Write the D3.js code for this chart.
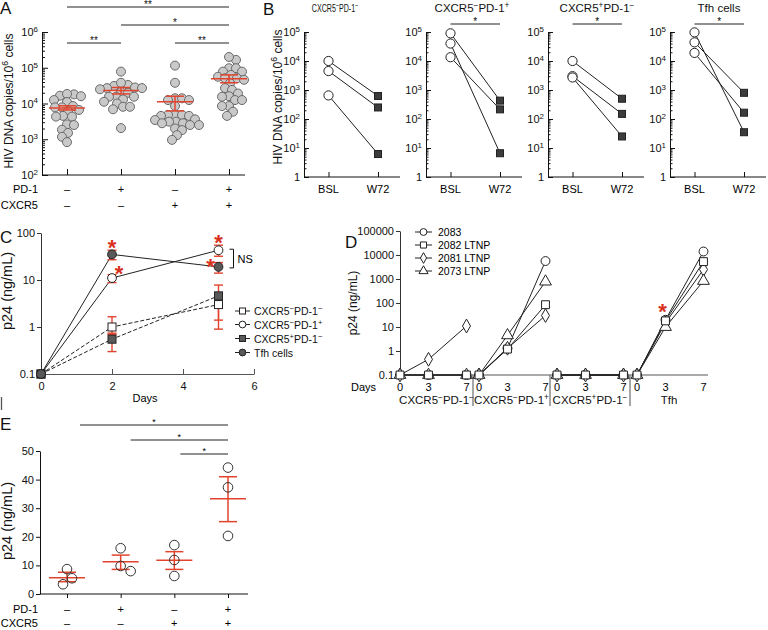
<!DOCTYPE html>
<html><head><meta charset="utf-8">
<script src="https://cdn.jsdelivr.net/npm/d3@7"></script>
<style>
body{margin:0;background:#fff}
svg{font-family:"Liberation Sans",Arial,Helvetica,sans-serif;display:block}
</style></head>
<body><svg width="768" height="630"></svg>
<script>
// ---------------- DATA ----------------
// Panel A
const aPD1 = ["–","+","–","+"];
const aCXCR5 = ["–","–","+","+"];
const aValues = [
  [18000,16000,16500,18500,11000,12500,7800,7800,8500,6200,6600,4500,4300,4300,2600,2500,1850,1500,1170,830],
  [78000,33000,31000,38000,28000,27000,25000,27000,21000,20000,15500,15500,15500,13000,11200,10000,8100,8100,6900,2050],
  [115000,38000,14000,14000,12500,12500,8500,4800,4800,4800,4500,4500,3100,3450,3600,3100,2800,2500,2500,2800,2000,1800,1300,960],
  [166000,200000,97000,97000,78000,78000,63000,56000,51000,51000,46000,37000,27000,24000,16000,19000,15500,12500,8500,8500,12500,5900,4500]
];
const aMean = [7500,23000,11200,49000];
const aLow  = [6600,18500,6200,38000];
const aHigh = [8600,28000,16000,63000];
const aSig = [[0,3,"**"],[1,3,"*"],[0,1,"**"],[2,3,"**"]];

// Panel B
const bTitles = ["CXCR5^−PD-1^−","CXCR5^−PD-1^+","CXCR5^+PD-1^−","Tfh cells"];
const bTimes = ["BSL","W72"];
const bBSL = [[10000,4500,650],[90000,40000,13500],[10000,3000,2700],[97000,44000,19000]];
const bW72 = [[620,250,6.2],[430,6.6,215],[500,150,25],[35,800,165]];
const bSig = [false,true,true,true];

// Panel C
const cSeries = ["CXCR5^−PD-1^−","CXCR5^−PD-1^+","CXCR5^+PD-1^−","Tfh cells"];
const cDays = [0,2,5];
const cMean = [[0.1,1.0,3.0],[0.1,11,43],[0.1,0.55,4.6],[0.1,35,19]];
const cLow  = [[null,0.7,0.9],[null,8.8,32],[null,0.3,1.4],[null,27,14]];
const cHigh = [[null,1.65,5.0],[null,13,55],[null,0.74,7.8],[null,43,23.5]];

// Panel D
const dDonors = ["2083","2082 LTNP","2081 LTNP","2073 LTNP"];
const dSections = ["CXCR5^−PD-1^−","CXCR5^−PD-1^+","CXCR5^+PD-1^−","Tfh"];
const dDays = [0,3,7];
const dValues = [ // [section][donor][day]
  [[0.1,0.1,0.1],[0.1,0.1,0.1],[0.1,0.45,11],[0.1,0.1,0.1]],
  [[0.1,1.3,5600],[0.1,1.2,85],[0.1,1.3,30],[0.1,4.5,780]],
  [[0.1,0.1,0.1],[0.1,0.1,0.1],[0.1,0.1,0.1],[0.1,0.1,0.1]],
  [[0.1,20,14000],[0.1,18,5300],[0.1,15,2500],[0.1,10,830]]
];
const dTicks = ["0.1","1","10","100","1000","10000","100000"];

// Panel E
const ePD1 = ["–","+","–","+"];
const eCXCR5 = ["–","–","+","+"];
const eValues = [[8.7,5.5,3.4],[16,9.8,8.0],[17.1,11.9,6.3],[44.2,37.3,20.3]];
const eMean = [5.7,11.3,11.8,33.3];
const eLow  = [4.3,8.6,8.6,25.3];
const eHigh = [7.6,13.6,14.8,41.0];
const eSig = [[0,3,"*"],[1,3,"*"],[2,3,"*"]];

// ---------------- HELPERS ----------------
const svg = d3.select("svg");
const RED = "#e2432c";
const STAR = "#d8301c";
svg.append("rect").attr("width",768).attr("height",630).attr("fill","#fff");

function rich(g, x, y, str, size, anchor){
  const t = g.append("text").attr("x",x).attr("y",y).attr("font-size",size)
    .attr("text-anchor",anchor||"start").attr("fill","#111");
  let buf = "", down = false;
  const flush = () => {
    if(buf){ const ts = t.append("tspan").text(buf); if(down){ ts.attr("dy", size*0.38); down=false; } buf=""; }
  };
  for(let k=0;k<str.length;k++){
    const c = str[k];
    if(c==="^"){
      flush();
      t.append("tspan").attr("dy", -size*0.38).attr("font-size", size*0.72).text(str[k+1]);
      k++; down = true;
    } else buf += c;
  }
  flush();
  return t;
}
function swarm(ys, r){
  const placed=[], off=new Array(ys.length);
  d3.range(ys.length).sort((a,b)=>ys[a]-ys[b]).forEach(i=>{
    const y=ys[i];
    for(let s=0;s<400;s++){
      const dx = s===0?0:(s%2?Math.ceil(s/2):-s/2);
      if(placed.every(p=>(p.x-dx)**2+(p.y-y)**2 >= (2*r)**2)){ off[i]=dx; placed.push({x:dx,y}); break; }
    }
  });
  return off;
}
function decadeMinors(lo, hi){
  const out=[];
  for(let e=lo;e<hi;e++) for(let m=2;m<=9;m++) out.push(m*Math.pow(10,e));
  return out;
}
function letter(x,y,t){ svg.append("text").attr("x",x).attr("y",y).attr("font-size",17).attr("fill","#111").text(t); }
function vlabel(x,y,str,size){
  const g = svg.append("g").attr("transform",`translate(${x},${y}) rotate(-90)`);
  rich(g,0,0,str,size,"middle");
}
function errBar(g, x, lo, hi, cap, sc, color, w){
  g.append("line").attr("x1",x).attr("x2",x).attr("y1",sc(lo)).attr("y2",sc(hi)).attr("stroke",color).attr("stroke-width",w);
  [lo,hi].forEach(v=>g.append("line").attr("x1",x-cap).attr("x2",x+cap).attr("y1",sc(v)).attr("y2",sc(v)).attr("stroke",color).attr("stroke-width",w));
}

// ---------------- PANEL A ----------------
{
  const g = svg.append("g");
  const y = d3.scaleLog().domain([1e2,1e6]).range([175,32]);
  const x = d3.scalePoint().domain(d3.range(4)).range([67,229]);
  const majors=[1e2,1e3,1e4,1e5,1e6];
  g.append("g").attr("transform","translate(42,0)").attr("color","#111")
    .call(d3.axisLeft(y).tickValues(majors).tickSize(-6).tickSizeOuter(0).tickFormat(""));
  g.append("g").attr("transform","translate(42,0)").attr("color","#111")
    .call(d3.axisLeft(y).tickValues(decadeMinors(2,6)).tickSize(-3).tickFormat(""))
    .select(".domain").remove();
  majors.forEach(v=>rich(g,38,y(v)+4,"10^"+Math.round(Math.log10(v)),11,"end"));
  const xa = g.append("g").attr("transform","translate(0,175)").attr("color","#111")
    .call(d3.axisBottom(x).tickSize(-6).tickSizeOuter(0).tickFormat(""));
  xa.select(".domain").remove();
  g.append("line").attr("x1",42).attr("x2",245).attr("y1",175).attr("y2",175).attr("stroke","#111");
  // points
  aValues.forEach((vals,i)=>{
    const ys = vals.map(v=>y(v));
    const off = swarm(ys,3.4);
    g.selectAll(null).data(vals).join("circle")
      .attr("cx",(d,k)=>x(i)+off[k]).attr("cy",d=>y(d)).attr("r",4.5)
      .attr("fill","#c9c9c9").attr("stroke","#6a6a6a").attr("stroke-width",1);
    g.append("line").attr("x1",x(i)-18).attr("x2",x(i)+18).attr("y1",y(aMean[i])).attr("y2",y(aMean[i]))
      .attr("stroke",RED).attr("stroke-width",1.5);
    errBar(g,x(i),aLow[i],aHigh[i],9,y,RED,1.5);
  });
  const levels=[7,25,43,43];
  aSig.forEach((s,k)=>{
    g.append("line").attr("x1",x(s[0])).attr("x2",x(s[1])).attr("y1",levels[k]).attr("y2",levels[k]).attr("stroke","#222");
    g.append("text").attr("x",(x(s[0])+x(s[1]))/2).attr("y",levels[k]+0.5).attr("text-anchor","middle")
      .attr("font-size",10).attr("fill","#111").text(s[2]);
  });
  g.append("text").attr("x",38).attr("y",193).attr("text-anchor","end").attr("font-size",11).text("PD-1");
  g.append("text").attr("x",38).attr("y",209).attr("text-anchor","end").attr("font-size",11).text("CXCR5");
  aPD1.forEach((s,i)=>g.append("text").attr("x",x(i)).attr("y",193).attr("text-anchor","middle").attr("font-size",11).text(s));
  aCXCR5.forEach((s,i)=>g.append("text").attr("x",x(i)).attr("y",209).attr("text-anchor","middle").attr("font-size",11).text(s));
  vlabel(13,101,"HIV DNA copies/10^6 cells",12);
  letter(0,14,"A");
}

// ---------------- PANEL B ----------------
{
  const x0s=[304,426,548,670];
  const titleX=[335,472,597,719];
  const y = d3.scaleLog().domain([1,1e5]).range([177,32]);
  const majors=[1,10,100,1e3,1e4,1e5];
  x0s.forEach((x0,i)=>{
    const g = svg.append("g").attr("transform",`translate(${x0},0)`);
    const x = d3.scalePoint().domain(bTimes).range([24.5,74]);
    g.append("g").attr("color","#111").call(d3.axisLeft(y).tickValues(majors).tickSize(-5).tickSizeOuter(0).tickFormat(""));
    g.append("g").attr("color","#111").call(d3.axisLeft(y).tickValues(decadeMinors(0,5)).tickSize(-2.5).tickFormat(""))
      .select(".domain").remove();
    majors.forEach(v=>{
      const e=Math.round(Math.log10(v));
      rich(g,-4,y(v)+4,e===0?"1":"10^"+e,11,"end");
    });
    const xa=g.append("g").attr("transform","translate(0,177)").attr("color","#111")
      .call(d3.axisBottom(x).tickSize(-5).tickSizeOuter(0).tickFormat(""));
    xa.select(".domain").remove();
    g.append("line").attr("x1",0).attr("x2",96).attr("y1",177).attr("y2",177).attr("stroke","#111");
    bTimes.forEach(t=>g.append("text").attr("x",x(t)).attr("y",193).attr("text-anchor","middle").attr("font-size",11).text(t));
    bBSL[i].forEach((v,k)=>{
      g.append("line").attr("x1",x("BSL")).attr("x2",x("W72")).attr("y1",y(v)).attr("y2",y(bW72[i][k])).attr("stroke","#222");
    });
    g.selectAll(null).data(bW72[i]).join("rect")
      .attr("x",x("W72")-3.5).attr("y",d=>y(d)-3.5).attr("width",7).attr("height",7)
      .attr("fill","#3c3c3c").attr("stroke","#222");
    g.selectAll(null).data(bBSL[i]).join("circle")
      .attr("cx",x("BSL")).attr("cy",d=>y(d)).attr("r",4.6)
      .attr("fill","#fff").attr("stroke","#222");
    if(bSig[i]){
      g.append("line").attr("x1",x("BSL")).attr("x2",x("W72")).attr("y1",24).attr("y2",24).attr("stroke","#222");
      g.append("text").attr("x",(x("BSL")+x("W72"))/2).attr("y",24.5).attr("text-anchor","middle").attr("font-size",10).text("*");
    }
    // title
    const tg = svg.append("g").attr("transform",`translate(${titleX[i]},12)` + (i===0?" scale(0.62,1)":""));
    rich(tg,0,0,bTitles[i],11.5,"middle");
  });
  vlabel(282,97,"HIV DNA copies/10^6 cells",12);
  letter(263,15,"B");
}

// ---------------- PANEL C ----------------
{
  const g = svg.append("g");
  const x = d3.scaleLinear().domain([0,6]).range([41,254]);
  const y = d3.scaleLog().domain([0.1,100]).range([374,233]);
  const ya = g.append("g").attr("transform","translate(41,0)").attr("color","#333")
    .call(d3.axisLeft(y).tickValues([0.1,1,10,100]).tickSize(4).tickSizeOuter(0).tickPadding(2)
      .tickFormat(d=>d<1?"0.1":String(d)));
  ya.selectAll("text").attr("font-size",11).attr("font-family",null).attr("fill","#111");
  const xa = g.append("g").attr("transform","translate(0,374)").attr("color","#555")
    .call(d3.axisBottom(x).tickValues([0,2,4,6]).tickSize(-5).tickSizeOuter(0).tickPadding(8).tickFormat(d3.format("d")));
  xa.selectAll("text").attr("font-size",11).attr("font-family",null).attr("fill","#111");
  g.append("text").attr("x",145).attr("y",402).attr("text-anchor","middle").attr("font-size",11).text("Days");
  const style=[{sh:"sq",fill:"#fff",dash:"4,2"},{sh:"ci",fill:"#fff",dash:null},{sh:"sq",fill:"#595959",dash:"4,2"},{sh:"ci",fill:"#595959",dash:null}];
  const line = d3.line().x(d=>x(d[0])).y(d=>y(d[1]));
  cMean.forEach((m,i)=>{
    g.append("path").attr("d",line(cDays.map((d,k)=>[d,m[k]]))).attr("fill","none")
      .attr("stroke","#222").attr("stroke-width",1).attr("stroke-dasharray",style[i].dash);
  });
  cMean.forEach((m,i)=>{
    cDays.forEach((d,k)=>{ if(cLow[i][k]!=null) errBar(g,x(d),cLow[i][k],cHigh[i][k],4.5,y,RED,1.4); });
  });
  function marker(gg,cx,cy,st,s){
    if(st.sh==="sq") gg.append("rect").attr("x",cx-s).attr("y",cy-s).attr("width",2*s).attr("height",2*s)
      .attr("fill",st.fill).attr("stroke","#222");
    else gg.append("circle").attr("cx",cx).attr("cy",cy).attr("r",s+0.4).attr("fill",st.fill).attr("stroke","#222");
  }
  cMean.forEach((m,i)=>cDays.forEach((d,k)=>marker(g,x(d),y(m[k]),style[i],4)));
  // stars
  const stars=[[2,35,0,-11],[2,11,7,-9],[5,43,0,-12],[5,19,-8,-5]];
  stars.forEach(s=>g.append("text").attr("x",x(s[0])+s[2]).attr("y",y(s[1])+s[3]+12).attr("text-anchor","middle")
    .attr("font-size",22).attr("font-weight","bold").attr("fill",STAR).text("*"));
  // NS bracket
  g.append("path").attr("d",`M${x(5)+11},${y(43)-1}H${x(5)+15}V${y(19)+1}H${x(5)+11}`).attr("fill","none").attr("stroke","#111");
  g.append("text").attr("x",x(5)+19).attr("y",(y(43)+y(19))/2+4).attr("font-size",11).text("NS");
  // legend
  const ly=[311,324.5,338.5,352.5];
  cSeries.forEach((s,i)=>{
    g.append("line").attr("x1",235).attr("x2",250).attr("y1",ly[i]).attr("y2",ly[i]).attr("stroke","#222");
    marker(g,242.5,ly[i],style[i],3);
    rich(g,254,ly[i]+4,s,10.5,"start");
  });
  vlabel(12,291,"p24 (ng/mL)",14.5);
  letter(0,243,"C");
}

// ---------------- PANEL D ----------------
{
  const g = svg.append("g");
  const y = d3.scaleLog().domain([0.1,100000]).range([375,231]);
  const starts=[400,479,557,637];
  const bounds=[400,473,550,630,708];
  const x = d3.scaleLinear().domain([0,7]).range([0,66.5]);
  const ya=g.append("g").attr("transform","translate(400,0)").attr("color","#333")
    .call(d3.axisLeft(y).tickValues(dTicks.map(Number)).tickSize(4).tickSizeOuter(0).tickPadding(2)
      .tickFormat((d,i)=>dTicks[i]));
  ya.selectAll("text").attr("font-size",11).attr("font-family",null).attr("fill","#111");
  g.append("line").attr("x1",400).attr("x2",708).attr("y1",375).attr("y2",375).attr("stroke","#555");
  [1,2,3].forEach(k=>g.append("line").attr("x1",bounds[k]).attr("x2",bounds[k]).attr("y1",375).attr("y2",406)
    .attr("stroke","#777").attr("stroke-width",1.3));
  g.append("text").attr("x",376).attr("y",391).attr("text-anchor","end").attr("font-size",11).text("Days");
  const symbols=[d3.symbolCircle,d3.symbolSquare,d3.symbolDiamond,d3.symbolTriangle];
  const sizes=[62,62,55,60];
  const order=[0,2,3,1];
  dSections.forEach((sec,s)=>{
    const gs=g.append("g").attr("transform",`translate(${starts[s]},0)`);
    dDays.forEach(d=>gs.append("text").attr("x",x(d)).attr("y",391).attr("text-anchor","middle").attr("font-size",11).text(d));
    rich(g,(bounds[s]+bounds[s+1])/2,404,sec,11.5,"middle");
    const line=d3.line().x(d=>x(d[0])).y(d=>y(d[1]));
    dValues[s].forEach(vals=>gs.append("path").attr("d",line(dDays.map((d,k)=>[d,vals[k]])))
      .attr("fill","none").attr("stroke","#222").attr("stroke-width",1));
    order.forEach(di=>{
      dValues[s][di].forEach((v,k)=>{
        gs.append("path").attr("d",d3.symbol(symbols[di],sizes[di])())
          .attr("transform",`translate(${x(dDays[k])},${y(v)})`).attr("fill","#fff").attr("stroke","#222");
      });
    });
  });
  g.append("text").attr("x",starts[3]+x(3)-3).attr("y",y(dValues[3][1][1])-14+12).attr("text-anchor","middle")
    .attr("font-size",22).attr("font-weight","bold").attr("fill",STAR).text("*");
  // legend
  const ly=[232,245,258,271];
  dDonors.forEach((t,i)=>{
    g.append("line").attr("x1",415).attr("x2",432).attr("y1",ly[i]).attr("y2",ly[i]).attr("stroke","#222");
    g.append("path").attr("d",d3.symbol(symbols[i],sizes[i]*0.6)()).attr("transform",`translate(423.5,${ly[i]})`)
      .attr("fill","#fff").attr("stroke","#222");
    g.append("text").attr("x",438).attr("y",ly[i]+4).attr("font-size",10.5).text(t);
  });
  vlabel(357,303,"p24 (ng/mL)",12);
  letter(345,248,"D");
}

// ---------------- PANEL E ----------------
{
  const g = svg.append("g");
  const y = d3.scaleLinear().domain([0,50]).range([594,451]);
  const x = d3.scalePoint().domain(d3.range(4)).range([67,228]);
  const ya=g.append("g").attr("transform","translate(40,0)").attr("color","#111")
    .call(d3.axisLeft(y).tickValues([0,10,20,30,40,50]).tickSize(4).tickSizeOuter(0).tickPadding(2));
  ya.selectAll("text").attr("font-size",11).attr("font-family",null).attr("fill","#111");
  const xa=g.append("g").attr("transform","translate(0,594)").attr("color","#111")
    .call(d3.axisBottom(x).tickSize(4).tickSizeOuter(0).tickFormat(""));
  xa.select(".domain").remove();
  g.append("line").attr("x1",40).attr("x2",248).attr("y1",594).attr("y2",594).attr("stroke","#111");
  eValues.forEach((vals,i)=>{
    const off=swarm(vals.map(v=>y(v)),5.2);
    g.append("line").attr("x1",x(i)-18).attr("x2",x(i)+18).attr("y1",y(eMean[i])).attr("y2",y(eMean[i]))
      .attr("stroke",RED).attr("stroke-width",1.5);
    errBar(g,x(i),eLow[i],eHigh[i],9,y,RED,1.5);
    g.selectAll(null).data(vals).join("circle").attr("cx",(d,k)=>x(i)+off[k]).attr("cy",d=>y(d)).attr("r",4.8)
      .attr("fill","none").attr("stroke","#333").attr("stroke-width",1);
  });
  const lv=[425,440,454], startOff=[13,10,6];
  eSig.forEach((s,k)=>{
    g.append("line").attr("x1",x(s[0])+startOff[k]).attr("x2",x(s[1])).attr("y1",lv[k]).attr("y2",lv[k]).attr("stroke","#222");
    g.append("text").attr("x",(x(s[0])+startOff[k]+x(s[1]))/2).attr("y",lv[k]).attr("text-anchor","middle").attr("font-size",9).text(s[2]);
  });
  g.append("text").attr("x",38).attr("y",613).attr("text-anchor","end").attr("font-size",11).text("PD-1");
  g.append("text").attr("x",38).attr("y",627).attr("text-anchor","end").attr("font-size",11).text("CXCR5");
  ePD1.forEach((s,i)=>g.append("text").attr("x",x(i)).attr("y",613).attr("text-anchor","middle").attr("font-size",11).text(s));
  eCXCR5.forEach((s,i)=>g.append("text").attr("x",x(i)).attr("y",627).attr("text-anchor","middle").attr("font-size",11).text(s));
  vlabel(12,521,"p24 (ng/mL)",14.5);
  letter(0,430,"E");
  svg.append("line").attr("x1",1.5).attr("x2",1.5).attr("y1",397).attr("y2",410).attr("stroke","#555").attr("stroke-width",1.3);
}
</script></body></html>
